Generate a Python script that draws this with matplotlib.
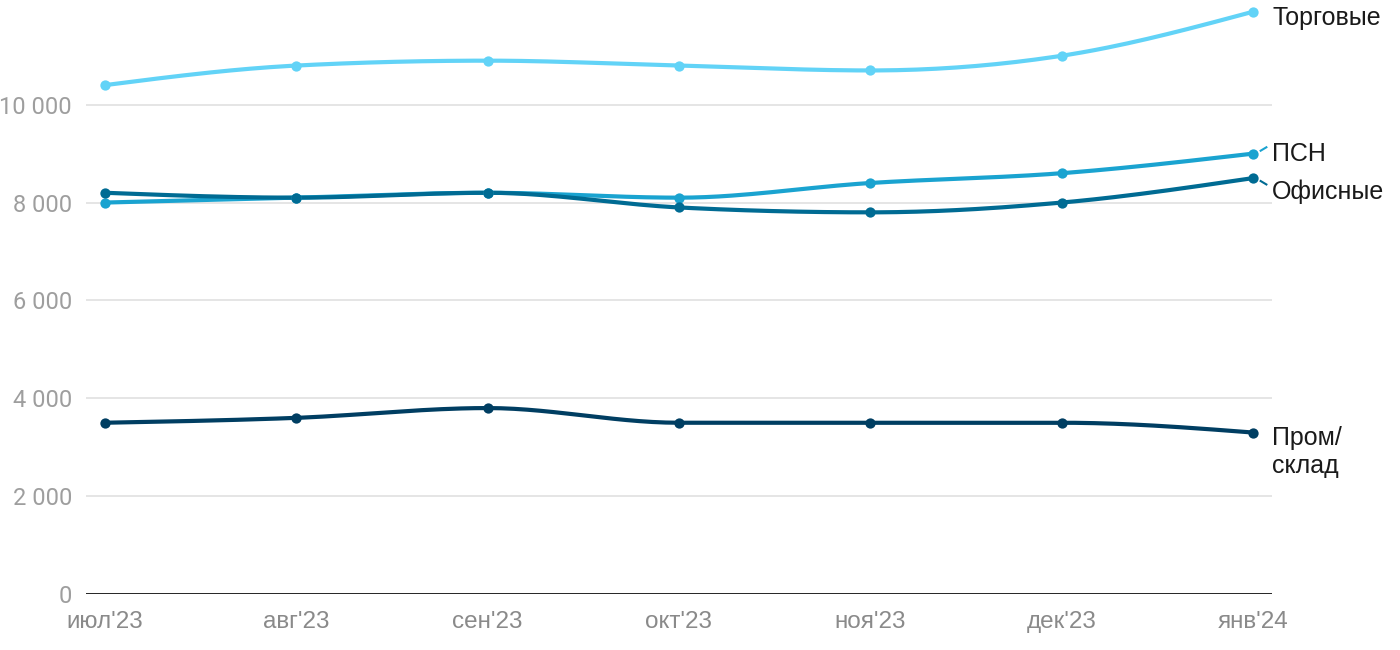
import numpy as np
import matplotlib.pyplot as plt

# данные
months = ["июл'23", "авг'23", "сен'23", "окт'23", "ноя'23", "дек'23", "янв'24"]
trade = [10400, 10800, 10900, 10800, 10700, 11000, 11900]
psn = [8000, 8100, 8200, 8100, 8400, 8600, 9000]
office = [8200, 8100, 8200, 7900, 7800, 8000, 8500]
warehouse = [3500, 3600, 3800, 3500, 3500, 3500, 3300]

yticks = [0, 2000, 4000, 6000, 8000, 10000]
ytick_labels = ["0", "2 000", "4 000", "6 000", "8 000", "10 000"]


def monotone_curve(x, y, n=30):
    # monotone cubic (как curveMonotoneX), только для отрисовки
    x = np.asarray(x, float)
    y = np.asarray(y, float)
    h = np.diff(x)
    d = np.diff(y) / h
    m = np.zeros_like(y)
    for i in range(1, len(y) - 1):
        if d[i - 1] * d[i] <= 0:
            m[i] = 0
        else:
            s = (d[i - 1] * h[i] + d[i] * h[i - 1]) / (h[i - 1] + h[i])
            m[i] = np.sign(s) * min(abs(s), 2 * min(abs(d[i - 1]), abs(d[i])))
    m[0] = (3 * d[0] - m[1]) / 2
    m[-1] = (3 * d[-1] - m[-2]) / 2
    xs, ys = [], []
    for i in range(len(x) - 1):
        t = np.linspace(0, 1, n)
        h00 = 2 * t**3 - 3 * t**2 + 1
        h10 = t**3 - 2 * t**2 + t
        h01 = -2 * t**3 + 3 * t**2
        h11 = t**3 - t**2
        xs.append(x[i] + t * h[i])
        ys.append(h00 * y[i] + h10 * h[i] * m[i] + h01 * y[i + 1] + h11 * h[i] * m[i + 1])
    return np.concatenate(xs), np.concatenate(ys)


fig = plt.figure(figsize=(14, 6.5), dpi=100)
ax = fig.add_axes([86 / 1400, 56 / 650, (1272 - 86) / 1400, 592 / 650])

x = np.arange(len(months))
series = [
    (trade, "#62D3F7"),
    (psn, "#1AA3D0"),
    (office, "#006B93"),
    (warehouse, "#003E62"),
]

for vals, color in series:
    xs, ys = monotone_curve(x, vals)
    ax.plot(xs, ys, color=color, lw=3, solid_capstyle="round", zorder=3)
    ax.scatter(x, vals, s=55, color=color, zorder=4, linewidths=0)

ax.set_xlim(-19 / 191.33, 6 + 19 / 191.33)
ax.set_ylim(0, 592 / 0.04893)

for yt in yticks[1:]:
    ax.axhline(yt, color="#E0E0E0", lw=1.2, zorder=1)
ax.axhline(0, color="#111111", lw=2, zorder=2)

for s in ax.spines.values():
    s.set_visible(False)
ax.set_yticks(yticks)
ax.set_yticklabels(ytick_labels, family="Roboto", color="#9E9E9E", fontsize=17)
ax.set_xticks(x)
ax.set_xticklabels(months, family="Liberation Sans", color="#8A8A8A", fontsize=17.5)
ax.tick_params(length=0, axis="y", pad=10)
ax.tick_params(length=0, axis="x", pad=12)

# подписи справа
lab_kw = dict(family="Liberation Sans", fontsize=18, color="#1A1A1A", va="center", ha="left",
              clip_on=False)
ax.text(6.1, trade[-1] - 120, "Торговые", **lab_kw)
ax.text(6.1, 8990, "ПСН", **lab_kw)
ax.text(6.1, 8230, "Офисные", **lab_kw)
ax.text(6.1, warehouse[-1] - 400, "Пром/\nсклад", linespacing=1.25, **lab_kw)

# короткие выноски
ax.plot([6.04, 6.07], [psn[-1] + 60, psn[-1] + 130], color="#1AA3D0", lw=1.5, clip_on=False)
ax.plot([6.04, 6.07], [office[-1] - 60, office[-1] - 130], color="#006B93", lw=1.5, clip_on=False)

fig.savefig("out.png", dpi=100, facecolor="white")
